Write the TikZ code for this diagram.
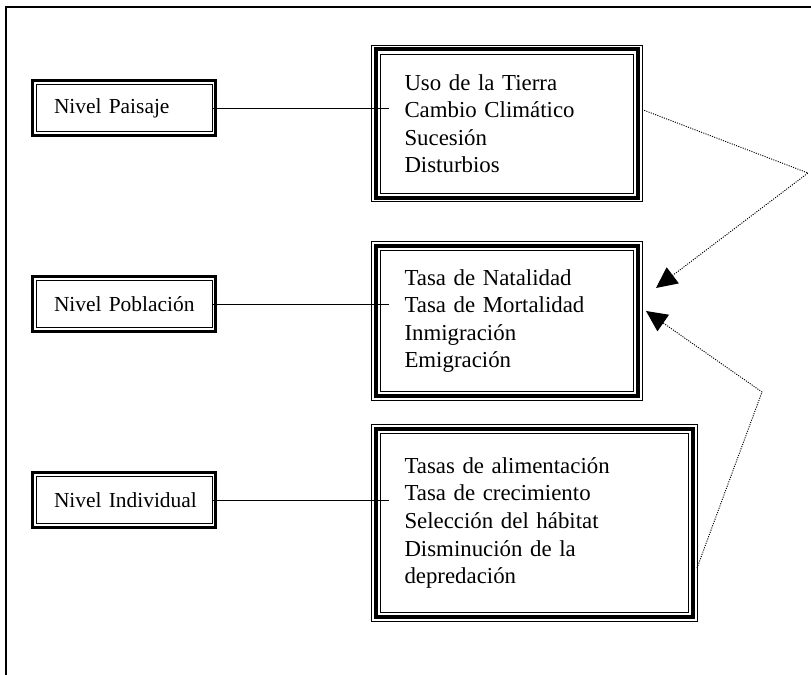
\documentclass[tikz,border=0pt]{standalone}
\usepackage{fontspec}
\setmainfont{Liberation Serif}
\usepackage{tikz}
\usetikzlibrary{arrows.meta}

\newcommand{\px}{0.03cm}
\newcommand{\boxfont}{\fontsize{19.5}{23.5}\selectfont}
\newcommand{\levelfont}{\fontsize{18.3}{22}\selectfont}

\tikzset{
  levelbox/.style={draw, line width=0.8pt, outer sep=0pt, inner ysep=0pt,
    inner xsep=18*\px, text width=140*\px, minimum height=47*\px, font=\levelfont,
    append after command={\pgfextra{
      \draw[line width=2.6pt] ([shift={(-3.6*\px,-3.6*\px)}]\tikzlastnode.south west)
        rectangle ([shift={(3.6*\px,3.6*\px)}]\tikzlastnode.north east);}}},
  factorbox/.style={draw, line width=0.8pt, outer sep=0pt, inner xsep=24*\px,
    inner ysep=0pt, align=left, font=\boxfont,
    append after command={\pgfextra{
      \draw[line width=3.2pt] ([shift={(-4.7*\px,-4.7*\px)}]\tikzlastnode.south west)
        rectangle ([shift={(4.7*\px,4.7*\px)}]\tikzlastnode.north east);
      \draw[line width=0.8pt] ([shift={(-8.7*\px,-8.7*\px)}]\tikzlastnode.south west)
        rectangle ([shift={(8.7*\px,8.7*\px)}]\tikzlastnode.north east);}}},
  link/.style={line width=0.8pt},
  hint/.style={line width=0.8pt, dash pattern=on 0.9pt off 1.1pt,
    -{Triangle[length=21*\px, width=20*\px]}}
}

\begin{document}
\begin{tikzpicture}[x=\px, y=-\px]
  \useasboundingbox (0,0) rectangle (811,675);

  % marco
  \draw[line width=1.2pt] (6,675) -- (6,7) -- (811,7);

  % niveles
  \node[levelbox, anchor=west] (paisaje) at (36,108) {\mbox{Nivel Paisaje}};
  \node[levelbox, anchor=west] (poblacion) at (36,304) {\mbox{Nivel Poblaci\'on}};
  \node[levelbox, anchor=west] (individual) at (36,500) {\mbox{Nivel Individual}};

  % factores
  \node[factorbox, text width=205*\px, minimum height=139*\px] (usos) at (507,123.5)
    {Uso de la Tierra\\Cambio Clim\'atico\\Sucesi\'on\\Disturbios};
  \node[factorbox, text width=205*\px, minimum height=141*\px] (tasas) at (507,321)
    {Tasa de Natalidad\\Tasa de Mortalidad\\Inmigraci\'on\\Emigraci\'on};
  \node[factorbox, text width=260*\px, minimum height=179*\px] (conducta) at (534.5,523)
    {Tasas de alimentaci\'on\\Tasa de crecimiento\\Selecci\'on del h\'abitat\\Disminuci\'on de la\\depredaci\'on};

  \draw[link, shorten >=-8.5*\px] (paisaje.east) -- (paisaje.east -| usos.west);
  \draw[link, shorten >=-8.5*\px] (poblacion.east) -- (poblacion.east -| tasas.west);
  \draw[link, shorten >=-8.5*\px] (individual.east) -- (individual.east -| conducta.west);

  % flechas punteadas
  \coordinate (kneeA) at (808,173);
  \coordinate (kneeB) at (762,392);
  \draw[hint] ([shift={(8.5*\px,14*\px)}]usos.east) -- (kneeA) -- (656,288);
  \draw[hint] ([shift={(8.5*\px,-45*\px)}]conducta.east) -- (kneeB) -- (646,311);
\end{tikzpicture}
\end{document}
